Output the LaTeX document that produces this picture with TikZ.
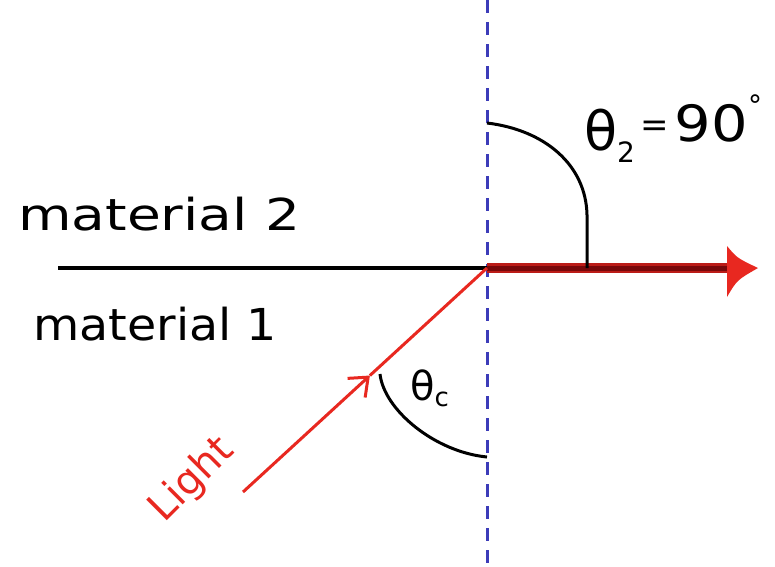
\documentclass[tikz,border=0pt]{standalone}
\usepackage{fontspec}
\setmainfont{DejaVu Sans}
\usetikzlibrary{calc,arrows.meta}
\definecolor{rayred}{RGB}{232,40,32}
\definecolor{darkray}{RGB}{120,8,10}
\definecolor{normalblue}{RGB}{60,60,185}
\tikzset{
  lbl/.style={font=\fontsize{44}{44}\selectfont, inner sep=0pt},
  iface/.style={line width=3.2pt, black},
  normline/.style={line width=3pt, normalblue, dash pattern=on 13pt off 9pt},
  anglearc/.style={line width=3pt, black},
  incray/.style={line width=3pt, rayred},
}
\begin{document}
\begin{tikzpicture}[x=1pt,y=-1pt]
\useasboundingbox (0,0) rectangle (775,566);
\fill[white] (0,0) rectangle (775,566);
% points
\coordinate (O) at (487,268);
\coordinate (L) at (58,268);
\coordinate (top) at (487,0);
\coordinate (bot) at (487,566);
\coordinate (S) at (243,492);
\coordinate (M) at ($(S)!0.52!(O)$);
\coordinate (E) at (729,268);
\coordinate (T) at (758,268);
\coordinate (A1) at (380,374);
\coordinate (A2) at (487,457);
\coordinate (B1) at (487,123);
\coordinate (B2) at (587,268);
% normal
\draw[normline] (top) -- (bot);
% interface
\draw[iface] (L) -- (O);
% refracted ray
\draw[line width=10pt, rayred!60!darkray] (O) -- (E);
\draw[line width=5pt, darkray] (O) -- (E);
\fill[rayred] (727,246) .. controls (737,258) .. (T) .. controls (737,280) .. (727,297) -- cycle;
% incident ray
\draw[incray, -{Straight Barb[length=16pt,width=26pt,line width=3pt]}] (S) -- (M);
\draw[incray] (M) -- (O);
% angle arcs
\draw[anglearc] (A1) .. controls (384,410) and (435,452) .. (A2);
\draw[anglearc] (B1) .. controls (545,130) and (586,165) .. (587,215) -- (B2);
% labels
\node[lbl, anchor=base west, xscale=1.25] (m2) at (18,230) {material 2};
\node[lbl, anchor=base west, xscale=1.08] (m1) at (33,340) {material 1};
\node[inner sep=0pt, anchor=base west, font=\fontsize{54}{54}\selectfont] (t2) at (584,150)
  {θ\raisebox{-12pt}{\fontsize{28}{28}\selectfont 2}\raisebox{14pt}{\fontsize{34}{34}\selectfont\,=\,}\raisebox{9pt}{\scalebox{1.15}[1]{\fontsize{50}{50}\selectfont 90}\raisebox{26pt}{\fontsize{28}{28}\selectfont°}}};
\node[inner sep=0pt, anchor=base west, font=\fontsize{40}{40}\selectfont] (tc) at (410,400)
  {θ\raisebox{-6pt}{\fontsize{26}{26}\selectfont c}};
\node[lbl, rayred, rotate=45, font=\fontsize{40}{40}\selectfont] (light) at (192,480) {Light};
\end{tikzpicture}
\end{document}
